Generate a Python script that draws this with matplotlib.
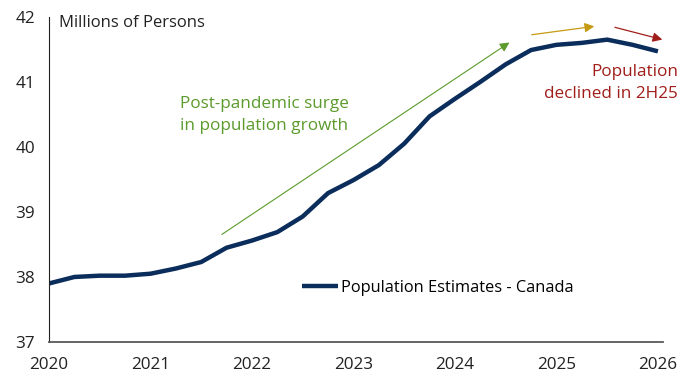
import matplotlib.pyplot as plt
import numpy as np

plt.rcParams['font.family'] = ['Open Sans', 'DejaVu Sans']

# quarterly population estimates, millions
quarters = np.arange(2020, 2026.01, 0.25)
population = [37.90, 38.00, 38.02, 38.02, 38.05, 38.13, 38.23, 38.45,
              38.56, 38.69, 38.93, 39.29, 39.49, 39.72, 40.05, 40.47,
              40.74, 41.00, 41.27, 41.49, 41.57, 41.60, 41.65, 41.57, 41.47]
year_ticks = [2020, 2021, 2022, 2023, 2024, 2025, 2026]
value_ticks = [37, 38, 39, 40, 41, 42]

navy = '#0b2d5b'
green = '#5b9a2c'
gold = '#c59a12'
red = '#a01d1a'

fig = plt.figure(figsize=(6.8, 3.75), dpi=100)
ax = fig.add_axes([0.072, 0.088, 0.903, 0.867])

ax.plot(quarters, population, color=navy, lw=3.2, solid_capstyle='butt',
        label='Population Estimates - Canada')

ax.set_xlim(2020, 2026.05)
ax.set_ylim(37, 42)
ax.set_xticks(year_ticks)
ax.set_yticks(value_ticks)
ax.tick_params(length=0, labelsize=12.3, colors='#222222')
ax.tick_params(axis='x', pad=11)
ax.tick_params(axis='y', pad=10)
ax.spines['top'].set_visible(False)
ax.spines['right'].set_visible(False)
ax.spines['left'].set_color('#222222')
ax.spines['bottom'].set_color('#595959')
ax.spines['bottom'].set_linewidth(1.3)

ax.text(0.016, 1.005, 'Millions of Persons', transform=ax.transAxes,
        fontsize=12, va='top', ha='left', color='#222222')

# annotations
ax.annotate('', xy=(2024.56, 41.63), xytext=(2021.68, 38.63),
            arrowprops=dict(arrowstyle='-|>', color=green, lw=0.8,
                            mutation_scale=14))
ax.text(2022.12, 40.49, 'Post-pandemic surge\nin population growth',
        color=green, fontsize=12.3, ha='center', va='center', linespacing=1.5)

ax.annotate('', xy=(2025.40, 41.86), xytext=(2024.73, 41.72),
            arrowprops=dict(arrowstyle='-|>', color=gold, lw=0.9,
                            mutation_scale=14), annotation_clip=False)
ax.annotate('', xy=(2026.07, 41.64), xytext=(2025.55, 41.85),
            arrowprops=dict(arrowstyle='-|>', color=red, lw=0.9,
                            mutation_scale=14), annotation_clip=False)
ax.text(2026.2, 40.98, 'Population\ndeclined in 2H25', color=red,
        fontsize=12.3, ha='right', va='center', linespacing=1.5)

ax.legend(loc='center', bbox_to_anchor=(0.633, 0.166), frameon=False,
          fontsize=11.8, handlelength=2.2, handletextpad=0.15,
          borderpad=0, borderaxespad=0)

fig.savefig('out.png', dpi=100)
